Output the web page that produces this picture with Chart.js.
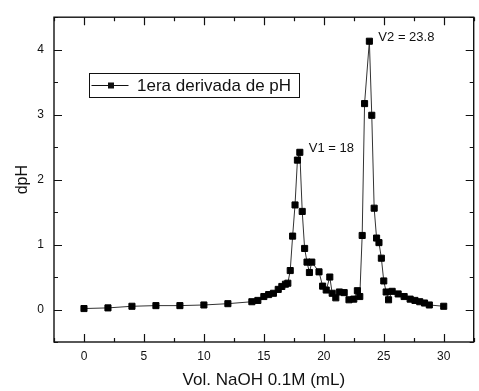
<!DOCTYPE html>
<html>
<head>
<meta charset="utf-8">
<script src="https://cdn.jsdelivr.net/npm/chart.js@4"></script>
<style>
    html, body { margin: 0; padding: 0; background: #fff; }
    #wrap { width: 479px; height: 391px; }
</style>
</head>
<body>
<div id="wrap"><canvas id="chart"></canvas></div>
<script>
// ============================================================
// First derivative of the titration curve (dpH vs NaOH volume)
// ============================================================

const volume = [0, 2, 4, 6, 8, 10, 12, 14, 14.5, 15, 15.4, 15.8, 16.2, 16.5, 16.8, 17,
    17.2, 17.4, 17.6, 17.8, 18, 18.2, 18.4, 18.6, 18.8, 19, 19.6, 19.9, 20.2, 20.5, 20.7,
    21, 21.3, 21.7, 22.1, 22.5, 22.8, 23, 23.2, 23.4, 23.8, 24, 24.2, 24.4, 24.6, 24.8,
    25, 25.2, 25.4, 25.7, 26.2, 26.7, 27.2, 27.6, 28, 28.4, 28.8, 30];
const dpH = [0.015, 0.025, 0.05, 0.06, 0.06, 0.07, 0.09, 0.12, 0.14, 0.2, 0.23, 0.25, 0.31, 0.355, 0.39, 0.405,
    0.6, 1.13, 1.61, 2.3, 2.42, 1.51, 0.94, 0.73, 0.57, 0.73, 0.58, 0.36, 0.3, 0.5, 0.25,
    0.18, 0.27, 0.26, 0.15, 0.16, 0.29, 0.2, 1.14, 3.17, 4.13, 2.99, 1.56, 1.1, 1.03, 0.79,
    0.44, 0.27, 0.15, 0.28, 0.24, 0.2, 0.16, 0.14, 0.12, 0.1, 0.07, 0.05];

const xTicks = [0, 5, 10, 15, 20, 25, 30];
const yTicks = [0, 1, 2, 3, 4];
const xMinor = [-2.5, 2.5, 7.5, 12.5, 17.5, 22.5, 27.5, 32.5];
const yMinor = [-0.5, 0.5, 1.5, 2.5, 3.5, 4.5];

const seriesLabel = '1era derivada de pH';
const notes = [
    { x: 18, y: 2.42, text: 'V1 = 18' },
    { x: 23.8, y: 4.13, text: 'V2 = 23.8' }
];

const FONT = "'Liberation Sans', Arial, sans-serif";
const INK = '#111';

// Frame, inward ticks on all four sides, legend box and peak labels
const framePlugin = {
    id: 'frame',
    afterDraw(chart) {
        const { ctx, chartArea: a, scales: { x, y } } = chart;
        ctx.save();
        ctx.strokeStyle = INK;
        ctx.lineWidth = 1.4;
        ctx.strokeRect(a.left, a.top, a.right - a.left, a.bottom - a.top);

        ctx.lineWidth = 1.2;
        ctx.beginPath();
        const tickX = (vals, len) => vals.forEach(v => {
            const px = Math.round(x.getPixelForValue(v)) + 0.5;
            ctx.moveTo(px, a.bottom); ctx.lineTo(px, a.bottom - len);
            ctx.moveTo(px, a.top); ctx.lineTo(px, a.top + len);
        });
        const tickY = (vals, len) => vals.forEach(v => {
            const py = Math.round(y.getPixelForValue(v)) + 0.5;
            ctx.moveTo(a.left, py); ctx.lineTo(a.left + len, py);
            ctx.moveTo(a.right, py); ctx.lineTo(a.right - len, py);
        });
        tickX(xTicks, 8); tickX(xMinor, 4);
        tickY(yTicks, 8); tickY(yMinor, 4);
        ctx.stroke();

        // peak annotations
        ctx.fillStyle = INK;
        ctx.font = '13px ' + FONT;
        ctx.textBaseline = 'middle';
        ctx.textAlign = 'left';
        notes.forEach(n => {
            ctx.fillText(n.text, x.getPixelForValue(n.x) + 9, y.getPixelForValue(n.y) - 4);
        });

        // legend box
        const bx = 89.5, by = 73.5, bw = 210, bh = 24;
        const cy = by + bh / 2;
        ctx.lineWidth = 1;
        ctx.strokeRect(bx, by, bw, bh);
        ctx.beginPath();
        ctx.moveTo(bx + 2, cy); ctx.lineTo(bx + 39, cy);
        ctx.stroke();
        ctx.fillRect(bx + 18.5, cy - 3, 6, 6);
        ctx.font = '17px ' + FONT;
        ctx.fillText(chart.data.datasets[0].label, bx + 47.5, cy + 0.5);
        ctx.restore();
    }
};

function createDerivativeChart(canvasId) {
    const ctx = document.getElementById(canvasId).getContext('2d');
    const points = volume.map((v, i) => ({ x: v, y: dpH[i] }));

    return new Chart(ctx, {
        type: 'line',
        data: {
            datasets: [{
                label: seriesLabel,
                data: points,
                borderColor: '#333',
                borderWidth: 1,
                pointStyle: 'rect',
                pointRadius: 4.3,
                pointBorderWidth: 1,
                pointBackgroundColor: '#000',
                pointBorderColor: '#000',
                tension: 0
            }]
        },
        options: {
            responsive: true,
            maintainAspectRatio: false,
            animation: false,
            layout: { padding: { top: 13, right: 1, left: 0, bottom: 0 } },
            plugins: {
                legend: { display: false },
                tooltip: { enabled: false }
            },
            scales: {
                x: {
                    type: 'linear',
                    min: -2.5,
                    max: 32.5,
                    grid: { display: false, drawTicks: false },
                    border: { display: false },
                    afterBuildTicks: (s) => { s.ticks = xTicks.map(v => ({ value: v })); },
                    afterFit: (s) => { s.height = 49; },
                    ticks: { padding: 7, color: INK, font: { family: FONT, size: 12 }, maxRotation: 0 },
                    title: {
                        display: true,
                        text: 'Vol. NaOH 0.1M (mL)',
                        color: INK,
                        font: { family: FONT, size: 17 },
                        padding: { top: 0, bottom: 0 }
                    }
                },
                y: {
                    min: -0.5,
                    max: 4.5,
                    grid: { display: false, drawTicks: false },
                    border: { display: false },
                    afterBuildTicks: (s) => { s.ticks = yTicks.map(v => ({ value: v })); },
                    afterFit: (s) => { s.width = 54; },
                    ticks: { padding: 10, color: INK, font: { family: FONT, size: 12 } },
                    title: {
                        display: true,
                        text: 'dpH',
                        color: INK,
                        font: { family: FONT, size: 16 },
                        padding: { top: 13, bottom: 0 }
                    }
                }
            }
        },
        plugins: [framePlugin]
    });
}

createDerivativeChart('chart');
</script>
</body>
</html>
